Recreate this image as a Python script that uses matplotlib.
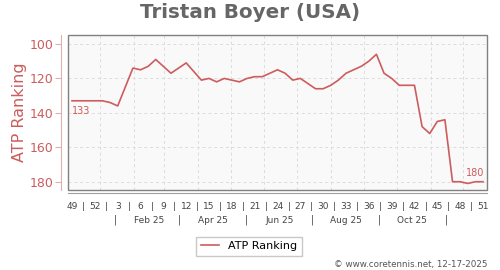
import numpy as np
import matplotlib
matplotlib.use('Agg')
import matplotlib.pyplot as plt
import matplotlib.transforms as mtransforms
from matplotlib.patches import Rectangle

# weekly ATP ranking, week 49 of 2024 to week 51 of 2025
weeks = [49, 50, 51, 52] + list(range(1, 52))
rankings = [133, 133, 133, 133, 133, 134, 136, 125, 114, 115,
            113, 109, 113, 117, 114, 111, 116, 121, 120, 122,
            120, 121, 122, 120, 119, 119, 117, 115, 117, 121,
            120, 123, 126, 126, 124, 121, 117, 115, 113, 110,
            106, 117, 120, 124, 124, 124, 148, 152, 145, 144,
            180, 180, 181, 180, 180]
month_labels = ['Feb 25', 'Apr 25', 'Jun 25', 'Aug 25', 'Oct 25']
player = 'Tristan Boyer (USA)'

red = '#cd5c5c'
start = np.datetime64('2024-12-06')


def week_pos(dates):
    return (np.array(dates, dtype='datetime64[D]') - start).astype(int) / 7.0


month_starts = np.arange('2025-01', '2026-01', dtype='datetime64[M]').astype('datetime64[D]')
label_pos = week_pos(['2025-02-15', '2025-04-15', '2025-06-15', '2025-08-15', '2025-10-15'])
sep_pos = week_pos(['2025-01-15', '2025-03-15', '2025-05-15', '2025-07-15', '2025-09-15', '2025-11-15'])

x = np.arange(len(rankings))

fig = plt.figure(figsize=(5, 2.7), dpi=100)
ax = fig.add_axes([0.136, 0.2963, 0.838, 0.574])
ax.set_facecolor('#f9f9f9')

for m in week_pos(month_starts):
    ax.axvline(m, color='#dcdcdc', lw=0.7, ls=(0, (3, 3)), zorder=1)
for v in [100, 120, 140, 160, 180]:
    ax.axhline(v, color='#dcdcdc', lw=0.7, ls=(0, (3, 3)), zorder=1)

ax.plot(x, rankings, color=red, lw=1.2, label='ATP Ranking', zorder=3)

ax.set_xlim(-0.53, 54.53)
ax.set_ylim(184.8, 94.8)

# frame box
ax.add_patch(Rectangle((0, 0), 1, 1, transform=ax.transAxes, fill=False,
                       edgecolor='#808080', lw=1.0, clip_on=False, zorder=4))
ax.spines['top'].set_visible(False)
ax.spines['right'].set_visible(False)
ax.spines['left'].set_position(('outward', 5))
ax.spines['left'].set_color('#dfb0b0')
ax.spines['bottom'].set_position(('outward', 2))
ax.spines['bottom'].set_color('#a0a0a0')

ax.set_yticks([100, 120, 140, 160, 180])
ax.tick_params(axis='y', colors='#dfb0b0', labelcolor=red, labelsize=9,
               length=4, pad=1.5)
ax.set_ylabel('ATP Ranking', color=red, fontsize=11.5, labelpad=2)

ax.set_xticks(x[::3])
ax.set_xticklabels([str(w) for w in weeks[::3]])
ax.set_xticks(x[:-1:3] + 1.5, minor=True)
ax.set_xticklabels(['|'] * len(x[:-1:3]), minor=True)
ax.tick_params(axis='x', which='both', length=0, labelsize=6.5,
               labelcolor='#444444', pad=7)

trans = mtransforms.blended_transform_factory(ax.transData, ax.transAxes)
for p, lab in zip(label_pos, month_labels):
    ax.text(p, -0.194, lab, transform=trans, ha='center', va='center',
            fontsize=6.5, color='#444444')
for p in sep_pos:
    ax.text(p, -0.194, '|', transform=trans, ha='center', va='center',
            fontsize=7, color='#444444')

ax.annotate(str(rankings[0]), (x[0], rankings[0]), xytext=(0, -4),
            textcoords='offset points', ha='left', va='top',
            fontsize=7, color=red)
ax.annotate(str(rankings[-1]), (x[-1], rankings[-1]), xytext=(1, 3),
            textcoords='offset points', ha='right', va='bottom',
            fontsize=7, color=red)

fig.suptitle(player, x=0.5, y=0.954, va='center', fontsize=14.3,
             fontweight='bold', color='#666666')

fig.legend(loc='center', bbox_to_anchor=(0.498, 0.088), fontsize=8,
           frameon=True, fancybox=False, edgecolor='#bbbbbb',
           handlelength=1.7, borderpad=0.4)

fig.text(0.976, 0.022, '\u00a9 www.coretennis.net, 12-17-2025', ha='right',
         va='center', fontsize=6.3, color='#555555')

fig.savefig('out.png', dpi=100)
